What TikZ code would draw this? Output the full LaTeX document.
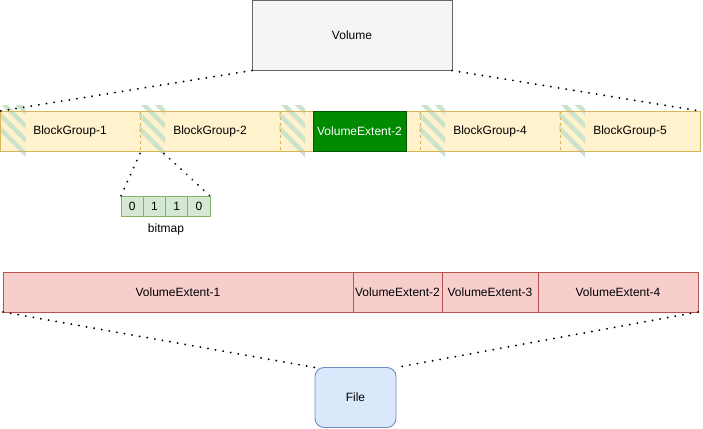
\documentclass[tikz,border=0pt]{standalone}
\usepackage{fontspec}
\setmainfont{Liberation Sans}
\begin{document}
\begin{tikzpicture}[x=1pt,y=-1pt,
  every node/.style={inner sep=0pt,outer sep=0pt,font=\fontsize{12}{14}\selectfont},
  volbox/.style={draw=black!60,fill=black!4,line width=0.9pt},
  gold/.style={draw={rgb,255:red,214;green,182;blue,86},line width=0.9pt},
  extbox/.style={draw={rgb,255:red,184;green,84;blue,80},fill={rgb,255:red,248;green,206;blue,204},line width=0.9pt},
  greenbox/.style={draw={rgb,255:red,0;green,87;blue,0},fill={rgb,255:red,0;green,138;blue,0},text=white,line width=0.9pt},
  bitcell/.style={draw={rgb,255:red,130;green,179;blue,102},fill={rgb,255:red,213;green,232;blue,212},line width=0.9pt,minimum width=22.25,minimum height=20},
  filebox/.style={draw={rgb,255:red,108;green,142;blue,191},fill={rgb,255:red,218;green,232;blue,252},line width=0.9pt,rounded corners=9pt},
  stripe/.style={draw={rgb,255:red,204;green,227;blue,203},line width=4.5pt,line cap=round},
  dots/.style={draw=black,line width=2.1pt,dash pattern=on 0.01pt off 7.7pt,line cap=round}
]
\useasboundingbox (0,0) rectangle (703,428);
\definecolor{bgfill}{RGB}{255,242,204}
% Volume
\node[volbox,minimum width=200,minimum height=70] (vol) at (352,35.5) {Volume};
% block row background
\node[fill=bgfill,minimum width=699.5,minimum height=40.5] (row) at (350.25,131.25) {};
% hatches
\foreach \x/\n in {0.5/1,140/2,280/3,420/4,560/5}{
  \node[minimum width=24,minimum height=47] (hatch\n) at (\x+12,130) {};
  \begin{scope}
    \clip (\x-1,105) rectangle (\x+25,156);
    \foreach \k in {-2,...,2}{
      \draw[stripe] (\x-4,97+\k*14) -- (\x+30,131+\k*14);
    }
  \end{scope}
}
% outer border and dividers
\draw[gold] (row.north west) rectangle (row.south east);
\foreach \x in {140,280,420,560}{
  \draw[gold,dash pattern=on 3pt off 3pt] (\x,111) -- (\x,151.5);
}
\node (bg1) at (70,131) {BlockGroup-1};
\node (bg2) at (210,131) {BlockGroup-2};
\node[greenbox,minimum width=93,minimum height=40.5] (ve2g) at (359.5,131.25) {VolumeExtent-2};
\node (bg4) at (490,131) {BlockGroup-4};
\node (bg5) at (630,131) {BlockGroup-5};
% bitmap
\node[bitcell] (c1) at (132.125,206) {0};
\node[bitcell,anchor=west] (c2) at (c1.east) {1};
\node[bitcell,anchor=west] (c3) at (c2.east) {1};
\node[bitcell,anchor=west] (c4) at (c3.east) {0};
\node (bm) at (166,229) {bitmap};
% extents row
\node[extbox,minimum width=350,minimum height=40] (e1) at (178,292) {VolumeExtent-1};
\node[extbox,minimum width=89,minimum height=40,anchor=west] (e2) at (e1.east) {VolumeExtent-2};
\node[extbox,minimum width=96,minimum height=40,anchor=west] (e3) at (e2.east) {VolumeExtent-3};
\node[extbox,minimum width=160,minimum height=40,anchor=west] (e4) at (e3.east) {VolumeExtent-4};
% file
\node[filebox,minimum width=81,minimum height=60] (file) at (355.5,397.5) {File};
% dotted connectors
\draw[dots] (vol.south west) -- (row.north west);
\draw[dots] (vol.south east) -- (row.north east);
\draw[dots] (hatch2.south west) -- (c1.north west);
\draw[dots] (hatch2.south east) -- (c4.north east);
\draw[dots] (e1.south west) -- (file.north west);
\draw[dots] (e4.south east) -- (file.north east);
\end{tikzpicture}
\end{document}
